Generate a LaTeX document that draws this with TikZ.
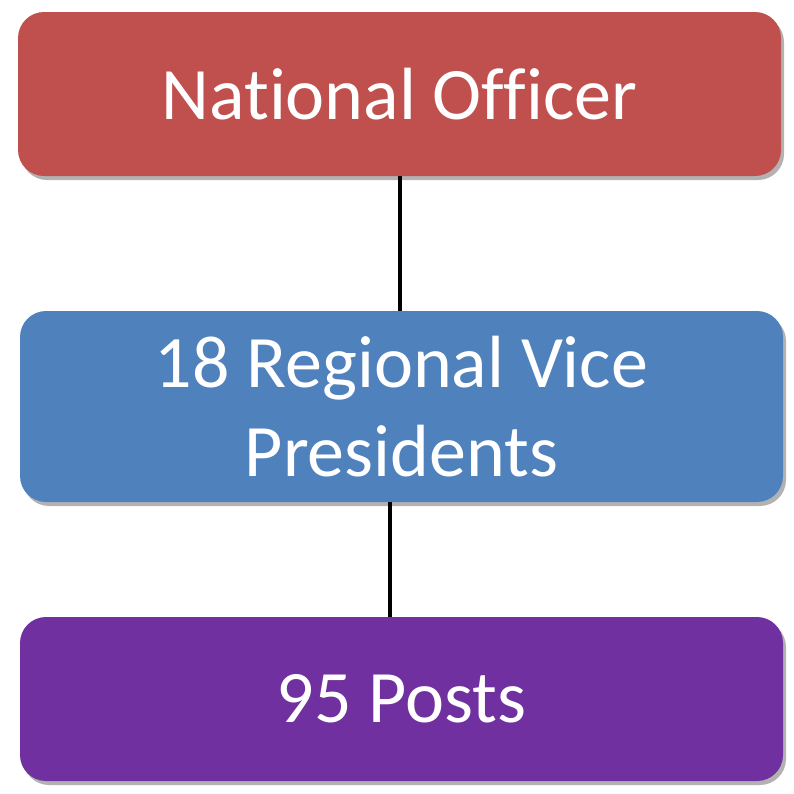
\documentclass[tikz,border=0pt]{standalone}
\usepackage{fontspec}
\setmainfont{Carlito}[Ligatures=NoCommon]
\usetikzlibrary{shadows}
\definecolor{tierred}{HTML}{C0504D}
\definecolor{tierblue}{HTML}{4F81BD}
\definecolor{tierpurple}{HTML}{7030A0}
\begin{document}
\begin{tikzpicture}[
  x=1pt, y=-1pt,
  tier/.style={rounded corners=26pt, minimum width=763pt, minimum height=164pt,
               font=\fontsize{74}{89}\selectfont, text=white, align=center, fill=#1,
               drop shadow={shadow xshift=3pt, shadow yshift=-4pt, opacity=0.3, fill=black}},
  link/.style={line width=4.5pt, black},
]
\useasboundingbox (0,0) rectangle (794,793);
%% Three tiers, top to bottom
\node[tier=tierred]    (officer) at (399.5,94)  {National Officer};
\node[tier=tierblue, minimum height=191pt] (vice) at (401.5,406.5) {18 Regional Vice\\Presidents};
\node[tier=tierpurple] (posts)   at (401.5,699) {95 Posts};

%% Connectors
\draw[link] ([xshift=0.5pt]officer.south) -- ([xshift=-1.5pt]vice.north);
\draw[link] ([xshift=-11.5pt]vice.south) -- ([xshift=-11.5pt]posts.north);

\end{tikzpicture}
\end{document}
